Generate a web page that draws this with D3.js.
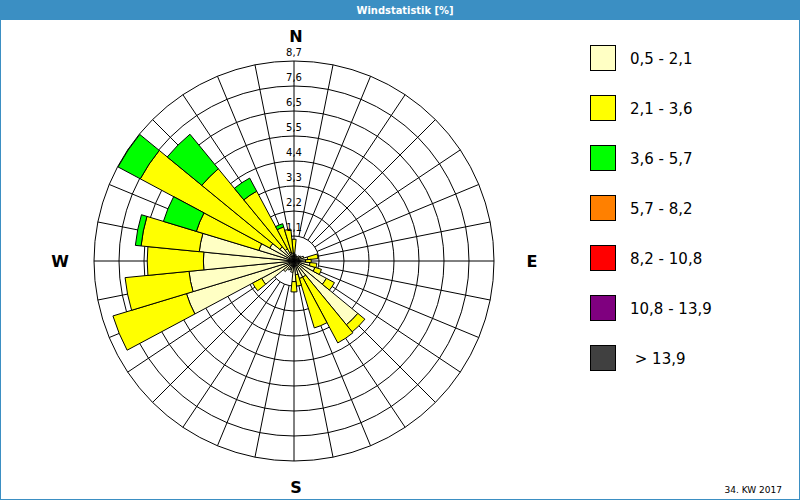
<!DOCTYPE html>
<html>
<head>
<meta charset="utf-8">
<script src="https://cdn.jsdelivr.net/npm/d3@7"></script>
<style>
  html, body { margin: 0; padding: 0; background: #fff; }
  svg { display: block; }
</style>
</head>
<body>
<svg id="chart" width="800" height="500"></svg>
<script>
// ---- data ----
const title = "Windstatistik [%]";
const footer = "34. KW 2017";
const directions = [0, 11.25, 22.5, 33.75, 45, 56.25, 67.5, 78.75, 90, 101.25, 112.5, 123.75,
  135, 146.25, 157.5, 168.75, 180, 191.25, 202.5, 213.75, 225, 236.25, 247.5, 258.75,
  270, 281.25, 292.5, 303.75, 315, 326.25, 337.5, 348.75];
const speedClasses = ["0,5 - 2,1", "2,1 - 3,6", "3,6 - 5,7", "5,7 - 8,2", "8,2 - 10,8", "10,8 - 13,9", " > 13,9"];
const classColors = ["#FFFFC4", "#FFFF00", "#00FF00", "#FF8000", "#FF0000", "#7F007F", "#404040"];
// percent per direction per speed class
const s1 = [0.35, 0.3, 0.25, 0.2, 0.3, 0.35, 0.45, 0.6, 0.5, 0.7, 0.95, 1.6,
  3.6, 0.8, 0.8, 0.6, 0.9, 0.5, 0.4, 0.45, 0.6, 1.6, 4.9, 4.6,
  3.95, 4.15, 1.6, 1.2, 0.8, 0.6, 0.4, 0.35];
const s2 = [0.6, 0, 0, 0, 0, 0, 0, 0.45, 0.25, 0.3, 0.3, 0.4,
  0.4, 3.25, 2.25, 0.5, 0.45, 0, 0, 0, 0, 0.45, 3.35, 2.8,
  2.45, 2.55, 2.85, 6.4, 4.4, 2.85, 1.15, 1.05];
const s3 = [0, 0, 0, 0, 0, 0, 0, 0, 0, 0, 0, 0,
  0, 0, 0, 0, 0, 0, 0, 0, 0, 0, 0, 0,
  0, 0.25, 1.5, 1.1, 1.95, 0.65, 0.15, 0];
const s4 = new Array(32).fill(0);
const s5 = new Array(32).fill(0);
const s6 = new Array(32).fill(0);
const s7 = new Array(32).fill(0);
const ringValues = [1.09, 2.18, 3.27, 4.36, 5.45, 6.54, 7.63, 8.72];
const ringLabels = ["1,1", "2,2", "3,3", "4,4", "5,5", "6,5", "7,6", "8,7"];
const cardinals = [{t: "N", a: 0}, {t: "E", a: 90}, {t: "S", a: 180}, {t: "W", a: 270}];

// ---- build ----
const series = [s1, s2, s3, s4, s5, s6, s7];
const keys = speedClasses.map((d, i) => "c" + i);
const table = directions.map((dir, i) => {
  const row = {dir};
  keys.forEach((k, j) => row[k] = series[j][i]);
  return row;
});
const stacked = d3.stack().keys(keys)(table);

const svg = d3.select("#chart");
const W = 800, H = 500;
const blue = "#3b8fc3";
const cx = 294, cy = 261;
const r = d3.scaleLinear().domain([0, 8.72]).range([0, 200]);
const color = d3.scaleOrdinal().domain(keys).range(classColors);
const rad = d => d * Math.PI / 180;
const step = 11.25;

// frame & title
svg.append("rect").attr("x", 0).attr("y", 0).attr("width", W).attr("height", H).attr("fill", "#fff");
svg.append("rect").attr("x", 0).attr("y", 0).attr("width", W).attr("height", 20).attr("fill", blue);
svg.append("rect").attr("x", 0.5).attr("y", 0.5).attr("width", W - 1).attr("height", H - 1)
  .attr("fill", "none").attr("stroke", blue).attr("stroke-width", 1);
svg.append("text").attr("x", 405).attr("y", 14).attr("text-anchor", "middle")
  .attr("fill", "#fff").attr("font-family", "'DejaVu Sans Condensed', 'DejaVu Sans', sans-serif")
  .attr("font-size", 11).attr("font-weight", 600).text(title);

const g = svg.append("g").attr("transform", `translate(${cx},${cy})`);

// grid rings
g.selectAll("circle.ring").data(ringValues).join("circle")
  .attr("class", "ring").attr("r", d => r(d)).attr("fill", "none")
  .attr("stroke", "#000").attr("stroke-width", 1);
// radial lines
g.selectAll("line.spoke").data(directions).join("line")
  .attr("class", "spoke")
  .attr("x1", d => (d % 90 === 0 ? 0 : r(ringValues[0])) * Math.sin(rad(d)))
  .attr("y1", d => -(d % 90 === 0 ? 0 : r(ringValues[0])) * Math.cos(rad(d)))
  .attr("x2", d => r(ringValues[ringValues.length - 1]) * Math.sin(rad(d)))
  .attr("y2", d => -r(ringValues[ringValues.length - 1]) * Math.cos(rad(d)))
  .attr("stroke", "#000").attr("stroke-width", 1);

// bars
const arc = d3.arc()
  .innerRadius(d => r(d[0]))
  .outerRadius(d => r(d[1]))
  .startAngle(d => rad(d.data.dir - step / 2))
  .endAngle(d => rad(d.data.dir + step / 2));
stacked.forEach(layer => {
  g.append("g").selectAll("path").data(layer.filter(d => d[1] - d[0] > 0)).join("path")
    .attr("d", arc).attr("fill", color(layer.key))
    .attr("stroke", "#000").attr("stroke-width", 1).attr("stroke-linejoin", "miter");
});

// ring labels
g.selectAll("text.rl").data(ringValues).join("text")
  .attr("class", "rl").attr("x", 0).attr("y", d => -r(d) - 5)
  .attr("text-anchor", "middle").attr("font-family", "'DejaVu Sans', Verdana, sans-serif")
  .attr("font-size", 10).attr("fill", "#000")
  .text((d, i) => ringLabels[i]);

// cardinal labels
const cardR = 222;
const cardOffset = {N: [2, 3], E: [16, 6], S: [2, 10], W: [-12, 6]};
g.selectAll("text.card").data(cardinals).join("text")
  .attr("class", "card")
  .attr("x", d => cardR * Math.sin(rad(d.a)) + cardOffset[d.t][0])
  .attr("y", d => -cardR * Math.cos(rad(d.a)) + cardOffset[d.t][1])
  .attr("text-anchor", "middle").attr("font-family", "'DejaVu Sans', Verdana, sans-serif")
  .attr("font-weight", "bold").attr("font-size", 16).attr("fill", "#000")
  .text(d => d.t);

// legend
const lg = svg.append("g").attr("transform", "translate(590,45)");
const items = lg.selectAll("g").data(speedClasses).join("g")
  .attr("transform", (d, i) => `translate(0,${i * 50})`);
items.append("rect").attr("x", 0.5).attr("y", 0.5).attr("width", 25).attr("height", 25)
  .attr("fill", (d, i) => classColors[i]).attr("stroke", "#000").attr("stroke-width", 1);
items.append("text").attr("x", 40).attr("y", 19)
  .attr("font-family", "'DejaVu Sans', Verdana, sans-serif").attr("font-size", 15)
  .attr("fill", "#000").style("white-space", "pre").text(d => d);

// footer
svg.append("text").attr("x", 782).attr("y", 493).attr("text-anchor", "end")
  .attr("font-family", "'DejaVu Sans', Verdana, sans-serif").attr("font-size", 9)
  .attr("fill", "#000").text(footer);
</script>
</body>
</html>
